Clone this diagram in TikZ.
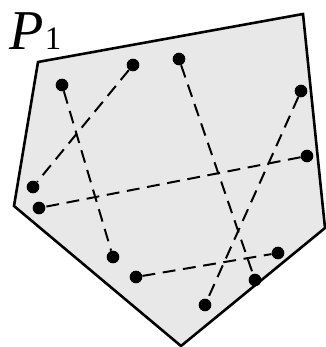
\documentclass[tikz,border=0pt]{standalone}
\usepackage{tikz}
\usepackage{fontspec}
\setmainfont{Liberation Serif}
\usetikzlibrary{positioning}
\definecolor{regionfill}{HTML}{E8E8E8}

\begin{document}
\begin{tikzpicture}[
    x=0.03cm, y=-0.03cm,
    region/.style={draw, line width=2.2pt, fill=regionfill, line join=miter},
    pt/.style={circle, fill=black, inner sep=0pt, minimum size=0.38cm},
    pair/.style={line width=1.7pt, dash pattern=on 11pt off 6.5pt}
]
\useasboundingbox (0,0) rectangle (325,347);
\path[region] (38,62) -- (303,14) -- (325,228) -- (181,346) -- (14,206) -- cycle;
\node[anchor=base west, inner sep=0pt] (label) at (9,50) {\fontsize{48}{52}\selectfont\textit{P}\kern1pt{\fontsize{28}{30}\selectfont 1}};
\node[pt] (a) at (62,85) {};
\node[pt] (b) at (133,65) {};
\node[pt] (c) at (179,59) {};
\node[pt] (d) at (301,91) {};
\node[pt] (e) at (307,156) {};
\node[pt] (f) at (33,187) {};
\node[pt] (g) at (39,208) {};
\node[pt] (h) at (113,257) {};
\node[pt] (i) at (136,277) {};
\node[pt] (j) at (278,253) {};
\node[pt] (k) at (255,280) {};
\node[pt] (l) at (205,305) {};
\draw[pair] (a) -- (h);
\draw[pair] (b) -- (f);
\draw[pair] (c) -- (k);
\draw[pair] (d) -- (l);
\draw[pair] (e) -- (g);
\draw[pair] (i) -- (j);
\end{tikzpicture}
\end{document}
